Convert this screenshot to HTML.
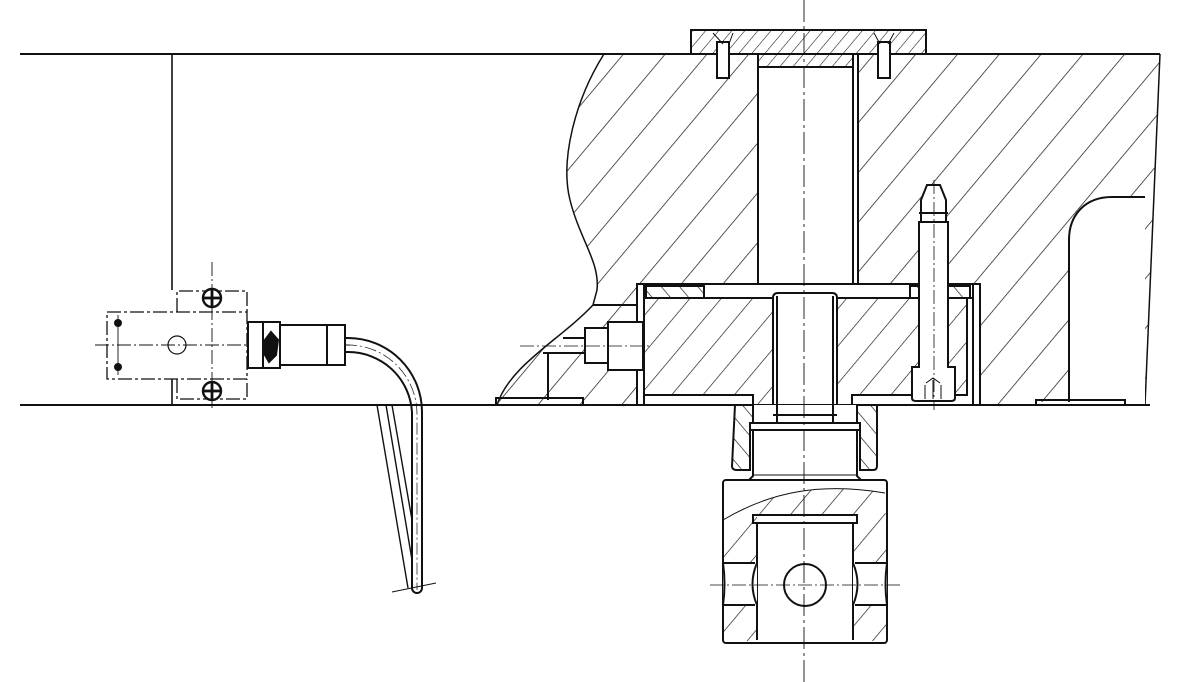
<!DOCTYPE html>
<html><head><meta charset="utf-8"><style>html,body{margin:0;padding:0;background:#fff}svg{display:block}</style></head>
<body>
<svg width="1196" height="682" viewBox="0 0 1196 682" xmlns="http://www.w3.org/2000/svg">
<defs>
<pattern id="h1" patternUnits="userSpaceOnUse" width="32" height="32" patternTransform="rotate(40)">
<line x1="0" y1="0" x2="0" y2="32" stroke="#111" stroke-width="1.4"/></pattern>
<pattern id="h2" patternUnits="userSpaceOnUse" width="10" height="10" patternTransform="rotate(40)">
<line x1="0" y1="0" x2="0" y2="10" stroke="#111" stroke-width="1.1"/></pattern>
<pattern id="h3" patternUnits="userSpaceOnUse" width="24" height="24" patternTransform="rotate(40)">
<line x1="0" y1="0" x2="0" y2="24" stroke="#111" stroke-width="1.3"/></pattern>
<pattern id="h4" patternUnits="userSpaceOnUse" width="14" height="14" patternTransform="rotate(-40)">
<line x1="0" y1="0" x2="0" y2="14" stroke="#111" stroke-width="1.3"/></pattern>
</defs>
<g fill="none" stroke="#111" stroke-width="2">
<path d="M604,54 C575,100 560,160 570,200 C580,240 600,262 597,290 L593,305 C560,340 510,365 497,405 L1145,405 L1160,54 Z" fill="url(#h1)" stroke="none"/>
<path d="M604,54 C575,100 560,160 570,200 C580,240 600,262 597,290 L593,305 C560,340 510,365 497,405" stroke-width="1.5"/>
<path d="M1160,54 L1145,405" stroke-width="1.5"/>
<rect x="758" y="54" width="100" height="230" fill="#fff"/>
<line x1="758" y1="54" x2="758" y2="284"/><line x1="853" y1="54" x2="853" y2="284"/>
<path d="M1145,197 L1112,197 C1085,197 1069,215 1069,240 L1069,402 L1036,402 L1036,407 L1145,407 Z" fill="#fff" stroke="none"/>
<path d="M1145,197 L1112,197 C1085,197 1069,215 1069,240 L1069,402"/>
<path d="M1036,405 L1036,400 L1125,400 L1125,405"/>
<path d="M593,305 L637,305"/>
<path d="M563,338 L585,338 M543,353 L585,353 M548,353 L548,400"/>
<path d="M496,405 L496,398 L583,398 L583,405"/>
<line x1="20" y1="54" x2="1160" y2="54"/>
<line x1="20" y1="405" x2="1150" y2="405"/>
<line x1="172" y1="54" x2="172" y2="290" stroke-width="1.6"/>
<line x1="172" y1="379" x2="172" y2="405" stroke-width="1.6"/>
<path d="M691,30 L926,30 L926,54 L853,54 L853,67 L758,67 L758,54 L691,54 Z" fill="url(#h2)"/>
<rect x="717" y="42" width="12" height="36" fill="#fff"/>
<rect x="878" y="42" width="12" height="36" fill="#fff"/>
<path d="M713,33 L723,44 M733,33 L729,44 M874,33 L880,44 M894,33 L888,44" stroke-width="1"/>
<rect x="637" y="284" width="343" height="121" fill="#fff"/>
<line x1="644" y1="284" x2="644" y2="405"/>
<line x1="973" y1="284" x2="973" y2="405"/>
<line x1="644" y1="298" x2="973" y2="298"/>
<rect x="646" y="286" width="58" height="12" fill="url(#h4)"/>
<rect x="910" y="286" width="60" height="12" fill="url(#h4)"/>
<path d="M644,298 L967,298 L967,395 L852,395 L852,405 L753,405 L753,395 L644,395 Z" fill="url(#h3)"/>
<path d="M773,405 L773,298 Q773,293 778,293 L832,293 Q837,293 837,298 L837,405 Z" fill="#fff"/>
<line x1="777" y1="296" x2="777" y2="420"/><line x1="833" y1="296" x2="833" y2="420"/>
<path d="M919,222 L919,367 L912,367 L912,398 Q912,401 916,401 L951,401 Q955,401 955,398 L955,367 L948,367 L948,222 Z" fill="#fff"/>
<path d="M921,222 L921,200 L927,185 L940,185 L946,200 L946,222 Z M919,213 L948,213" fill="#fff"/>
<path d="M925,385 L925,399 M933,380 L933,399 M941,385 L941,399 M926,383 L933,378 L940,383" stroke-width="1"/>
<line x1="934" y1="180" x2="934" y2="410" stroke-width="0.8" stroke-dasharray="14 3 2 3"/>
<rect x="608" y="322" width="35" height="48" fill="#fff"/>
<rect x="585" y="328" width="23" height="35" fill="#fff"/>
<line x1="520" y1="346" x2="650" y2="346" stroke-width="0.8" stroke-dasharray="14 3 2 3"/>
<path d="M735,405 L877,405 L877,466 Q877,470 873,470 L860,470 L860,430 L750,430 L750,470 L737,470 Q732,470 732,466 Z" fill="url(#h4)"/>
<rect x="753" y="405" width="104" height="25" fill="#fff" stroke="none"/>
<line x1="753" y1="405" x2="753" y2="423"/><line x1="857" y1="405" x2="857" y2="423"/>
<line x1="777" y1="405" x2="777" y2="423"/><line x1="833" y1="405" x2="833" y2="423"/>
<line x1="773" y1="415" x2="837" y2="415"/>
<rect x="750" y="423" width="110" height="7" fill="#fff"/>
<path d="M753,430 L753,476 L749,480 M857,430 L857,476 L861,480"/>
<line x1="753" y1="475" x2="857" y2="475" stroke-width="1"/>
<rect x="723" y="480" width="164" height="163" rx="3" fill="#fff"/>
<path d="M723,520 C770,492 820,482 885,493 L887,563 L853,563 L853,515 L757,515 L757,563 L723,563 Z" fill="url(#h3)" stroke="none"/>
<path d="M723,605 L757,605 L757,641 L723,641 Z M853,605 L887,605 L887,641 L853,641 Z" fill="url(#h3)" stroke="none"/>
<path d="M723,520 C770,492 820,482 885,493" stroke-width="1"/>
<path d="M757,523 L757,640 M853,523 L853,640 M753,515 L857,515 L857,523 L753,523 Z"/>
<path d="M723,563 L755,563 M855,563 L887,563 M723,605 L755,605 M855,605 L887,605"/>
<path d="M757,563 Q748,584 757,605 M853,563 Q862,584 853,605 M723,563 Q726,584 723,605 M887,563 Q884,584 887,605" fill="#fff"/>
<circle cx="805" cy="585" r="21" fill="#fff"/>
<line x1="710" y1="585" x2="903" y2="585" stroke-width="0.8" stroke-dasharray="14 3 2 3"/>
<line x1="804" y1="0" x2="804" y2="682" stroke-width="0.9" stroke-dasharray="22 4 3 4"/>
<g stroke-width="1.3">
<rect x="107" y="312" width="140" height="67" stroke-dasharray="14 3 3 3"/>
<path d="M177,312 L177,291 L247,291 L247,312 M177,379 L177,399 L247,399 L247,379" stroke-dasharray="14 3 3 3"/>
<line x1="212" y1="262" x2="212" y2="410" stroke-width="0.9" stroke-dasharray="14 3 2 3"/>
<line x1="95" y1="345" x2="350" y2="345" stroke-width="0.9" stroke-dasharray="14 3 2 3"/>
<line x1="118" y1="315" x2="118" y2="375" stroke-width="0.9"/>
</g>
<circle cx="212" cy="298" r="9" stroke-width="2.4" fill="#fff"/>
<path d="M204,298 L220,298 M212,290 L212,306" stroke-width="2.8"/>
<circle cx="212" cy="391" r="9" stroke-width="2.4" fill="#fff"/>
<path d="M204,391 L220,391 M212,383 L212,399" stroke-width="2.8"/>
<circle cx="118" cy="323" r="3" fill="#111"/><circle cx="118" cy="367" r="3" fill="#111"/>
<circle cx="177" cy="345" r="9" stroke-width="1.2"/>
<rect x="248" y="322" width="15" height="46" fill="#fff"/>
<rect x="263" y="322" width="17" height="46" fill="#fff"/>
<path d="M271,332 L278,340 L276,355 L269,362 L265,355 L265,340 Z" fill="#111"/>
<rect x="280" y="325" width="65" height="40" fill="#fff"/>
<line x1="327" y1="325" x2="327" y2="365"/>
<path d="M345,338 L348,338 A74,74 0 0 1 422,412 L422,588 A5,5 0 0 1 412,588 L412,412 A64,64 0 0 0 348,352 L345,352"/>
<path d="M345,345 L348,345 A69,69 0 0 1 417,414 L417,590" stroke-width="0.7" stroke-dasharray="12 3 2 3"/>
<path d="M377,405 L408,588 M386,405 L412,560 M392,405 L412,520" stroke-width="1.4"/>
<line x1="392" y1="592" x2="436" y2="583" stroke-width="0.9"/>
</g>
</svg>
</body></html>
